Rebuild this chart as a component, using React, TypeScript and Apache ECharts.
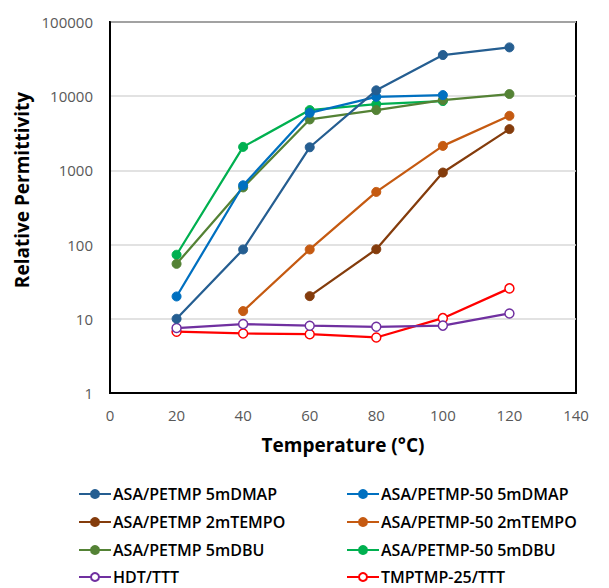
import React, { useEffect, useRef } from "react";
import * as echarts from "echarts";

const temperatures = [20, 40, 60, 80, 100, 120];
const seriesNames = [
  "ASA/PETMP 5mDMAP",
  "ASA/PETMP-50 5mDMAP",
  "ASA/PETMP 2mTEMPO",
  "ASA/PETMP-50 2mTEMPO",
  "ASA/PETMP 5mDBU",
  "ASA/PETMP-50 5mDBU",
  "HDT/TTT",
  "TMPTMP-25/TTT",
];
const asaPetmp5mDMAP = [10, 86, 2050, 12000, 35900, 45500];
const asaPetmp50_5mDMAP = [20, 630, 5970, 9800, 10350, null];
const asaPetmp2mTEMPO = [null, null, 20.2, 86.5, 935, 3600];
const asaPetmp50_2mTEMPO = [null, 12.7, 86, 513, 2140, 5440];
const asaPetmp5mDBU = [55, 590, 4860, 6500, 8860, 10700];
const asaPetmp50_5mDBU = [73, 2075, 6500, 7800, 8600, null];
const hdtTTT = [7.5, 8.5, 8.07, 7.8, 8.1, 11.8];
const tmptmp25TTT = [6.7, 6.35, 6.2, 5.6, 10.2, 25.7];

const allValues = [
  asaPetmp5mDMAP,
  asaPetmp50_5mDMAP,
  asaPetmp2mTEMPO,
  asaPetmp50_2mTEMPO,
  asaPetmp5mDBU,
  asaPetmp50_5mDBU,
  hdtTTT,
  tmptmp25TTT,
];
const colors = ["#255E91", "#0070C0", "#843C0C", "#C55A11", "#548235", "#00B050", "#7030A0", "#FF0000"];
const hollow = [false, false, false, false, false, false, true, true];

export default function App() {
  const ref = useRef<HTMLDivElement>(null);
  useEffect(() => {
    if (!ref.current) return;
    const chart = echarts.init(ref.current, null, { renderer: "svg" });
    const font = "'Open Sans', sans-serif";
    const series = seriesNames.map((name, i) => ({
      name,
      type: "line",
      data: temperatures
        .map((t, j) => [t, allValues[i][j]])
        .filter((p) => p[1] !== null),
      symbol: "circle",
      symbolSize: 9,
      showSymbol: true,
      lineStyle: { color: colors[i], width: 2.25 },
      itemStyle: hollow[i]
        ? { color: "#ffffff", borderColor: colors[i], borderWidth: 1.5 }
        : { color: colors[i], borderColor: colors[i], borderWidth: 1 },
      z: 10 - i,
    }));
    const legendText = { fontFamily: font, fontSize: 16, fontWeight: 600, color: "#000", padding: [0, 0, 0, -3] };
    const rowCenters = [494, 522, 550, 577];
    const legends = seriesNames.map((name, i) => ({
      data: [name],
      orient: "horizontal",
      left: i % 2 === 0 ? 78 : 346,
      top: rowCenters[Math.floor(i / 2)] - 8,
      height: 16,
      itemWidth: 32,
      itemHeight: 10,
      padding: 0,
      textStyle: legendText,
    }));
    chart.setOption({
      animation: false,
      color: colors,
      grid: {
        left: 110,
        right: 33,
        top: 22,
        bottom: 195,
        show: true,
        borderColor: "#000",
        borderWidth: 2,
        backgroundColor: "transparent",
      },
      xAxis: {
        type: "value",
        min: 0,
        max: 140,
        interval: 20,
        name: "Temperature (°C)",
        nameLocation: "middle",
        nameGap: 42,
        nameTextStyle: { fontFamily: font, fontSize: 19, fontWeight: "bold", color: "#000" },
        axisLine: { show: true, lineStyle: { color: "#000", width: 2 } },
        axisTick: { show: false },
        splitLine: { show: false },
        axisLabel: { fontFamily: font, fontSize: 15, color: "#595959", margin: 14 },
      },
      yAxis: {
        type: "log",
        logBase: 10,
        min: 1,
        max: 100000,
        axisLine: { show: true, lineStyle: { color: "#000", width: 2 } },
        axisTick: { show: false },
        splitLine: { show: true, lineStyle: { color: "#D9D9D9", width: 1.5 } },
        axisLabel: {
          fontFamily: font,
          fontSize: 15,
          color: "#595959",
          margin: 17,
          formatter: (v: number) => String(Math.round(v)),
        },
      },
      legend: legends,
      graphic: [
        {
          type: "text",
          x: 22,
          y: 190,
          rotation: Math.PI / 2,
          style: {
            text: "Relative Permittivity",
            fontFamily: font,
            fontSize: 19,
            fontWeight: "bold",
            fill: "#000",
            align: "center",
            verticalAlign: "middle",
          },
        },
      ],
      series,
    });
    return () => chart.dispose();
  }, []);
  return <div ref={ref} style={{ width: 609, height: 588, marginLeft: -8, marginTop: -8 }} />;
}
